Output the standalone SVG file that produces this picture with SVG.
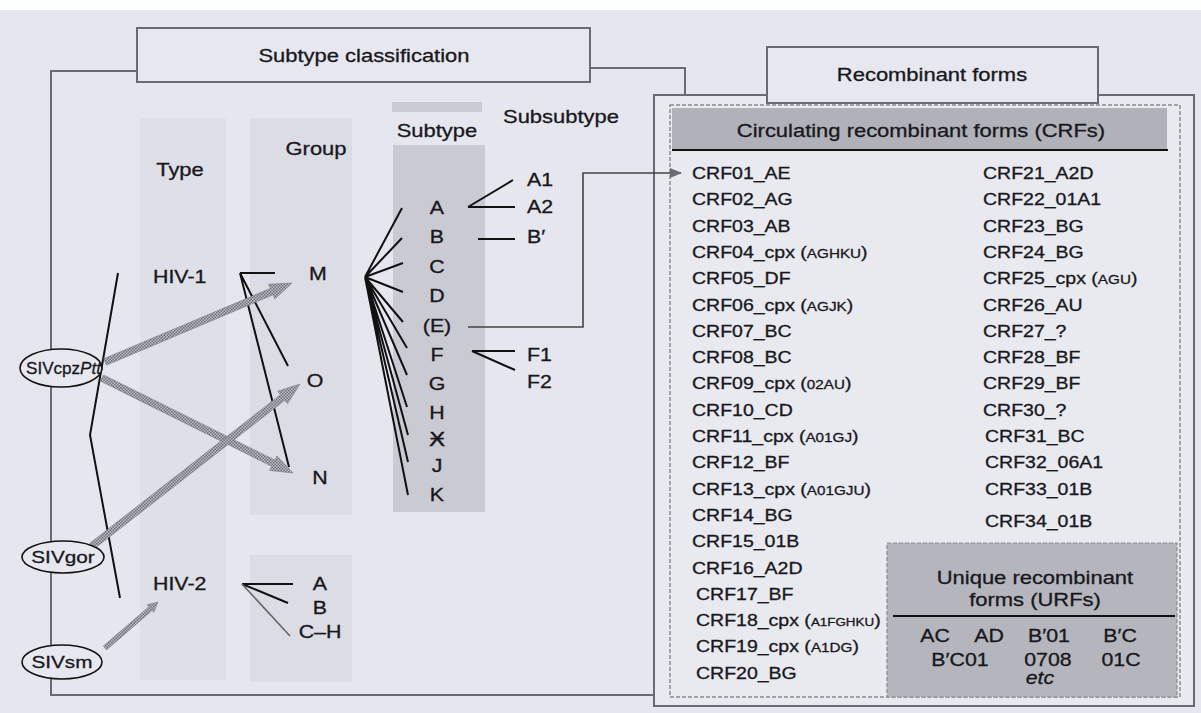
<svg xmlns="http://www.w3.org/2000/svg" width="1201" height="713" viewBox="0 0 1201 713">
<style>
text{font-family:"Liberation Sans",Arial,sans-serif;fill:#18181c;stroke:#18181c;stroke-width:0.3}
.s{transform-box:fill-box;transform-origin:0 0;transform:scaleX(1.22)}
.c{text-anchor:middle;transform-box:fill-box;transform-origin:50% 0;transform:scaleX(1.22)}
.h{font-size:18px}
.l{font-size:17.5px}
.r{font-size:16px}
.o{font-size:17px}
.sm{font-size:12.5px}
.frame{fill:none;stroke:#6a6a72;stroke-width:2}
.box{fill:#e7e7ef;stroke:#6a6a72;stroke-width:2}
.tree{fill:none;stroke:#111;stroke-width:2}
.oval{fill:#e7e7ef;stroke:#111;stroke-width:1.6}
.hat{fill:url(#hatch);stroke:#7a7a82;stroke-width:0.6}
</style>
<defs>
<pattern id="hatch" width="3" height="3" patternUnits="userSpaceOnUse">
<rect width="3" height="3" fill="#c0c0c8"/>
<rect width="1.5" height="1.5" fill="#6c6c74"/>
<rect x="1.5" y="1.5" width="1.5" height="1.5" fill="#6c6c74"/>
</pattern>
<marker id="ah" markerWidth="12" markerHeight="10" refX="11" refY="5" orient="auto" markerUnits="userSpaceOnUse">
<path d="M0,0 L12,5 L0,10 Z" fill="#6a6a70"/>
</marker>
</defs>

<rect width="1201" height="713" fill="#e6e6ee"/>
<rect width="1201" height="10" fill="#ffffff"/>

<!-- left panel frame -->
<g id="left-frame">
<path class="frame" d="M137,71 H51 V695 H654"/>
<path class="frame" d="M590,68 H685 V95"/>
<rect x="140" y="118" width="86" height="562" fill="#dfdfe7"/>
<rect x="250" y="118" width="102" height="397" fill="#dcdce4"/>
<rect x="250" y="555" width="102" height="127" fill="#dcdce4"/>
<rect x="392" y="102" width="90" height="10" fill="#cacad2"/>
<rect x="393" y="145" width="92" height="367" fill="#cacad2"/>
</g>
<g id="title-subtype-classification">
<rect class="box" x="137" y="28" width="453" height="54"/>
<text class="h c" x="364" y="62">Subtype classification</text>
</g>

<!-- right panel frame -->
<g id="right-frame">
<rect x="654" y="95" width="540" height="611" fill="#e9e9f0" stroke="#6a6a72" stroke-width="2"/>
<rect x="670" y="105" width="510" height="592" fill="none" stroke="#8a8a92" stroke-width="1.5" stroke-dasharray="4 2"/>
</g>
<g id="title-recombinant-forms">
<rect class="box" x="767" y="47" width="331" height="56"/>
<text class="h c" x="932" y="81">Recombinant forms</text>
</g>

<!-- headers -->
<g id="header-type"><text class="h c" x="180" y="176">Type</text></g>
<g id="header-group"><text class="h c" x="316" y="155">Group</text></g>
<g id="header-subtype"><text class="h c" x="437" y="137">Subtype</text></g>
<g id="header-subsubtype"><text class="h s" x="503" y="123">Subsubtype</text></g>

<!-- connectors -->
<g id="connectors">
<polyline class="tree" points="118,273 90,435 120,598"/>
<path class="tree" d="M240,273 H275 M240,273 L288,366 M240,273 L289,467"/>
<path class="tree" d="M242,584 H293 M242,584 L288,603"/>
<path fill="none" stroke="#666" stroke-width="1.6" d="M242,584 L290,636"/>
<path class="tree" d="M365,277 L402,208 M365,277 L402,238 M365,277 L403,263 M365,277 L403,292 M365,277 L403,322 M365,277 L407,348 M365,277 L407,375 M365,277 L407,407 M365,277 L408,435 M365,277 L408,462 M365,277 L408,495"/>
<path class="tree" d="M468,207 L513,180 M468,207 H515 M478,239 H515 M472,351 H515 M472,351 L515,370"/>
<polyline fill="none" stroke="#444" stroke-width="1.6" points="468,327 583,327 583,173 681,173" marker-end="url(#ah)"/>
<polygon class="hat" points="106.4,365.2 273.1,294.8 274.8,299.0 292,283 268.6,284.2 270.3,288.4 103.6,358.8"/>
<polygon class="hat" points="100.4,381.1 271.7,466.3 269.7,470.4 293,473 276.9,456.0 274.9,460.1 103.6,374.9"/>
<polygon class="hat" points="94.2,548.8 284.8,400.3 287.5,403.8 300,384 277.7,391.2 280.5,394.7 89.9,543.2"/>
<polygon class="hat" points="106.6,649.9 152.1,610.5 153.8,612.4 158,602 147.2,604.8 148.9,606.7 103.4,646.1"/>
</g>

<!-- source nodes -->
<g id="node-SIVcpzPtt">
<ellipse class="oval" cx="61" cy="368" rx="41" ry="19"/>
<text class="o" x="26" y="374" textLength="75" lengthAdjust="spacingAndGlyphs">SIVcpz<tspan font-style="italic">Ptt</tspan></text>
</g>
<g id="node-SIVgor">
<ellipse class="oval" cx="63" cy="557" rx="41" ry="16"/>
<text class="o c" x="63" y="563">SIVgor</text>
</g>
<g id="node-SIVsm">
<ellipse class="oval" cx="62" cy="662" rx="40" ry="17"/>
<text class="o c" x="62" y="668">SIVsm</text>
</g>

<!-- types -->
<g id="node-HIV-1"><text class="l s" x="153" y="283">HIV-1</text></g>
<g id="node-HIV-2"><text class="l s" x="153" y="590">HIV-2</text></g>

<!-- groups -->
<g id="node-M"><text class="l c" x="318" y="280">M</text></g>
<g id="node-O"><text class="l c" x="315" y="387">O</text></g>
<g id="node-N"><text class="l c" x="320" y="484">N</text></g>
<g id="node-HIV2-A"><text class="l c" x="320" y="590">A</text></g>
<g id="node-HIV2-B"><text class="l c" x="320" y="614">B</text></g>
<g id="node-HIV2-CH"><text class="l c" x="320" y="638">C–H</text></g>

<!-- subtypes -->
<g id="node-sub-A"><text class="l c" x="437" y="214">A</text></g>
<g id="node-sub-B"><text class="l c" x="437" y="243">B</text></g>
<g id="node-sub-C"><text class="l c" x="437" y="273">C</text></g>
<g id="node-sub-D"><text class="l c" x="437" y="302">D</text></g>
<g id="node-sub-E"><text class="l c" x="437" y="332">(E)</text></g>
<g id="node-sub-F"><text class="l c" x="437" y="361">F</text></g>
<g id="node-sub-G"><text class="l c" x="437" y="390">G</text></g>
<g id="node-sub-H"><text class="l c" x="437" y="419">H</text></g>
<g id="node-sub-I"><text class="c" x="437" y="446" style="font-family:'DejaVu Sans',sans-serif;font-size:20px">Ӿ</text></g>
<g id="node-sub-J"><text class="l c" x="437" y="472">J</text></g>
<g id="node-sub-K"><text class="l c" x="437" y="501">K</text></g>

<!-- subsubtypes -->
<g id="node-A1"><text class="l s" x="527" y="186">A1</text></g>
<g id="node-A2"><text class="l s" x="527" y="213">A2</text></g>
<g id="node-Bp"><text class="l s" x="527" y="243">B′</text></g>
<g id="node-F1"><text class="l s" x="527" y="361">F1</text></g>
<g id="node-F2"><text class="l s" x="527" y="388">F2</text></g>

<!-- CRF header -->
<g id="node-CRF-header">
<rect x="672" y="108" width="495" height="42" fill="#b1b1b9"/>
<line x1="672" y1="150" x2="1168" y2="150" stroke="#111" stroke-width="1.8"/>
<text class="h c" x="921" y="137">Circulating recombinant forms (CRFs)</text>
</g>

<g id="node-CRF-list">
<text class="r s" x="692" y="179">CRF01_AE</text>
<text class="r s" x="692" y="205">CRF02_AG</text>
<text class="r s" x="692" y="232">CRF03_AB</text>
<text class="r s" x="692" y="258">CRF04_cpx (<tspan class="sm">AGHKU</tspan>)</text>
<text class="r s" x="692" y="284">CRF05_DF</text>
<text class="r s" x="692" y="311">CRF06_cpx (<tspan class="sm">AGJK</tspan>)</text>
<text class="r s" x="692" y="337">CRF07_BC</text>
<text class="r s" x="692" y="363">CRF08_BC</text>
<text class="r s" x="692" y="389">CRF09_cpx (<tspan class="sm">02AU</tspan>)</text>
<text class="r s" x="692" y="416">CRF10_CD</text>
<text class="r s" x="692" y="442">CRF11_cpx (<tspan class="sm">A01GJ</tspan>)</text>
<text class="r s" x="692" y="468">CRF12_BF</text>
<text class="r s" x="692" y="495">CRF13_cpx (<tspan class="sm">A01GJU</tspan>)</text>
<text class="r s" x="692" y="521">CRF14_BG</text>
<text class="r s" x="692" y="547">CRF15_01B</text>
<text class="r s" x="692" y="574">CRF16_A2D</text>
<text class="r s" x="696" y="600">CRF17_BF</text>
<text class="r s" x="696" y="626">CRF18_cpx (<tspan style="font-size:11px">A1FGHKU</tspan>)</text>
<text class="r s" x="696" y="652">CRF19_cpx (<tspan class="sm">A1DG</tspan>)</text>
<text class="r s" x="696" y="679">CRF20_BG</text>
<text class="r s" x="983" y="179">CRF21_A2D</text>
<text class="r s" x="983" y="205">CRF22_01A1</text>
<text class="r s" x="983" y="232">CRF23_BG</text>
<text class="r s" x="983" y="258">CRF24_BG</text>
<text class="r s" x="983" y="284">CRF25_cpx (<tspan class="sm">AGU</tspan>)</text>
<text class="r s" x="983" y="311">CRF26_AU</text>
<text class="r s" x="983" y="337">CRF27_?</text>
<text class="r s" x="983" y="363">CRF28_BF</text>
<text class="r s" x="983" y="389">CRF29_BF</text>
<text class="r s" x="983" y="416">CRF30_?</text>
<text class="r s" x="985" y="442">CRF31_BC</text>
<text class="r s" x="985" y="468">CRF32_06A1</text>
<text class="r s" x="985" y="495">CRF33_01B</text>
<text class="r s" x="985" y="527">CRF34_01B</text>
</g>

<!-- URF box -->
<g id="node-URF">
<rect x="887" y="543" width="290" height="154" fill="#b5b5bd" stroke="#8a8a92" stroke-width="1.2" stroke-dasharray="4 2"/>
<text class="h c" x="1035" y="584">Unique recombinant</text>
<text class="h c" x="1035" y="606">forms (URFs)</text>
<line x1="893" y1="616" x2="1175" y2="616" stroke="#111" stroke-width="1.8"/>
<text class="l c" x="935" y="642">AC</text>
<text class="l c" x="989" y="642">AD</text>
<text class="l c" x="1049" y="642">B′01</text>
<text class="l c" x="1120" y="642">B′C</text>
<text class="l c" x="960" y="666">B′C01</text>
<text class="l c" x="1048" y="666">0708</text>
<text class="l c" x="1121" y="666">01C</text>
<text class="l c" x="1040" y="684" font-style="italic">etc</text>
</g>
</svg>
